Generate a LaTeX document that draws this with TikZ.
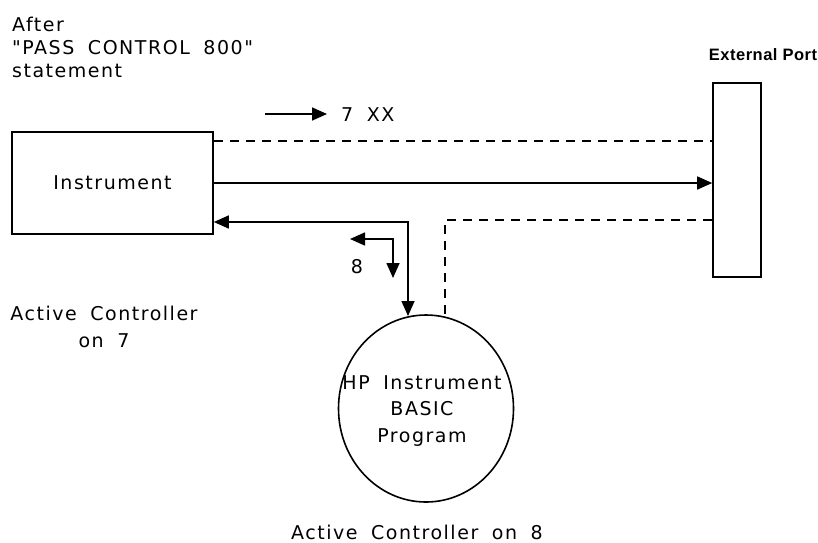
\documentclass[tikz,border=0pt]{standalone}
\usepackage{fontspec}
\setmainfont{DejaVu Sans}[LetterSpace=8, WordSpace=1.8, Ligatures=TeXOff]
\newfontfamily\portfont{Liberation Sans}[LetterSpace=3]
\usetikzlibrary{arrows.meta,shapes.geometric}

\begin{document}
\begin{tikzpicture}[x=1pt,y=-1pt,
  lbl/.style={font=\fontsize{19}{23}\selectfont, inner sep=0pt},
  conn/.style={line width=1.6pt},
  dconn/.style={line width=1.6pt, dash pattern=on 9pt off 7pt},
  tip/.style={-{Triangle[length=15pt,width=13pt]}},
  bitip/.style={{Triangle[length=15pt,width=13pt]}-{Triangle[length=15pt,width=13pt]}},
  boxsh/.style={draw, line width=1.6pt, inner sep=0pt}]
\useasboundingbox (0,0) rectangle (818,542);
\fill[white] (0,0) rectangle (818,542);

% texts top left
\node[lbl, anchor=base west] (after) at (12,31) {After};
\node[lbl, anchor=base west] (pass) at (12,54) {"PASS CONTROL 800"};
\node[lbl, anchor=base west] (stmt) at (12,77) {statement};

% boxes
\node[boxsh, minimum width=201pt, minimum height=102pt, font=\fontsize{19}{23}\selectfont] (inst) at (112.5,183) {Instrument};
\node[boxsh, minimum width=48pt, minimum height=194pt] (port) at (737,180) {};
\node[anchor=base, inner sep=0pt, font=\portfont\bfseries\fontsize{16.5}{20}\selectfont] (ext) at (763,60) {External Port};

\node[draw, ellipse, line width=1.6pt, minimum width=175pt, minimum height=187pt, inner sep=0pt] (prog) at (426,408.5) {};
\node[lbl, align=center, font=\fontsize{19}{26.5}\selectfont] (progtxt) at (422,411) {HP Instrument\\BASIC\\Program};

% 7 XX arrow
\coordinate (xa) at (265,114);
\coordinate (xb) at (327,114);
\draw[conn,tip] (xa) -- (xb);
\node[lbl, anchor=base west] (xx) at (341,121) {7 XX};

% connectors
\draw[dconn] (inst.east |- 0,141) -- (port.west |- 0,141);
\draw[conn,tip] (inst.east) -- (inst.east -| port.west);
\coordinate (cA) at (408,222);
\coordinate (cB) at (408,316);
\draw[conn,bitip] (cA -| inst.east) -- (cA) -- (cB);
\coordinate (dA) at (445,220);
\coordinate (dB) at (445,317);
\draw[dconn] (dA -| port.west) -- (dA) -- (dB);

% small arrow 8
\coordinate (sC) at (393,239);
\coordinate (sL) at (350,239);
\coordinate (sD) at (393,278);
\draw[conn,bitip] (sL) -- (sC) -- (sD);
\node[lbl] (eight) at (357,267) {8};

% bottom labels
\node[lbl, align=center, font=\fontsize{19}{27}\selectfont] (ac7) at (104,326.5) {Active Controller\\on 7};
\node[lbl, anchor=base] (ac8) at (417,539) {Active Controller on 8};
\end{tikzpicture}
\end{document}
